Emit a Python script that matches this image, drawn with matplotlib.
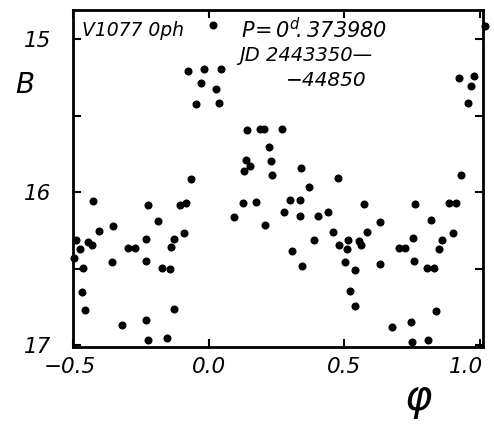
import matplotlib
matplotlib.use("Agg")
import matplotlib.pyplot as plt
from matplotlib.transforms import ScaledTranslation

plt.rcParams['font.family'] = ['DejaVu Sans']
plt.rcParams['font.style'] = 'italic'
plt.rcParams['mathtext.fontset'] = 'custom'
plt.rcParams['mathtext.it'] = 'DejaVu Sans:italic'
plt.rcParams['mathtext.rm'] = 'DejaVu Sans:italic'
plt.rcParams['axes.unicode_minus'] = True

# Phase and B magnitude
phase = [0.017, 1.018,
         -0.075, -0.018, 0.044, -0.029, 0.026, -0.048, 0.038,
         0.924, 0.978, 0.967, 0.955,
         0.140, 0.189, 0.203, 0.271, 0.222, 0.136, 0.130, 0.151, 0.228, 0.234, 0.342,
         -0.066, -0.428, -0.222, -0.107, -0.082, -0.186, -0.352, -0.406, -0.092,
         -0.488, -0.444, -0.431, -0.232, -0.127, -0.138, -0.475, -0.299, -0.272,
         -0.495, -0.358, -0.231, -0.463, -0.174, -0.143, -0.468, -0.455, -0.129,
         -0.320, -0.233, -0.223, -0.154, 0.128, 0.176, 0.094, 0.207,
         0.475, 0.369, 0.929, 0.298, 0.336, 0.571, 0.762, 0.887, 0.911, 0.277,
         0.338, 0.402, 0.439, 0.632, 0.820, 0.458, 0.585, 0.900, 0.390, 0.513,
         0.482, 0.510, 0.553, 0.561, 0.754, 0.860, 0.700, 0.724, 0.848, 0.308,
         0.343, 0.501, 0.541, 0.631, 0.757, 0.804, 0.831, 0.521, 0.540, 0.838,
         0.676, 0.745, 0.750, 0.810]
bmag = [14.908, 14.915,
        15.207, 15.196, 15.192, 15.286, 15.325, 15.425, 15.420,
        15.257, 15.242, 15.307, 15.420,
        15.595, 15.590, 15.590, 15.590, 15.704, 15.791, 15.863, 15.828, 15.795, 15.889, 15.841,
        15.910, 16.059, 16.080, 16.080, 16.070, 16.185, 16.220, 16.255, 16.263,
        16.309, 16.325, 16.346, 16.307, 16.307, 16.356, 16.371, 16.361, 16.361,
        16.429, 16.456, 16.451, 16.492, 16.492, 16.499, 16.654, 16.771, 16.763,
        16.865, 16.835, 16.965, 16.950, 16.069, 16.062, 16.161, 16.216,
        15.905, 15.965, 15.886, 16.048, 16.048, 16.074, 16.078, 16.067, 16.067, 16.129,
        16.155, 16.157, 16.131, 16.194, 16.178, 16.259, 16.259, 16.266, 16.309, 16.314,
        16.346, 16.373, 16.320, 16.346, 16.296, 16.309, 16.366, 16.366, 16.368, 16.384,
        16.479, 16.454, 16.505, 16.466, 16.451, 16.495, 16.495, 16.645, 16.745, 16.776,
        16.880, 16.848, 16.978, 16.961]

xticks = [-0.5, 0.0, 0.5, 1.0]
xticklabels = ["\u22120.5", "0.0", "0.5", "1.0"]
yticks = [15, 16, 17]
yticklabels = ["15", "16", "17"]
yminor = [15.5, 16.5]

fig = plt.figure(figsize=(4.94, 4.26), dpi=100)
ax = fig.add_axes([0.148, 0.1854, 0.830, 0.7911])

ax.plot(phase, bmag, 'o', color='black', markersize=5.8, markeredgewidth=0, clip_on=False)

ax.set_xlim(-0.5, 1.012)
ax.set_ylim(17.01, 14.81)

for s in ax.spines.values():
    s.set_linewidth(2.0)
    s.set_color('black')

ax.set_xticks(xticks)
ax.set_xticklabels(xticklabels, fontsize=15.5, fontstyle='italic')
ax.set_yticks(yticks)
ax.set_yticklabels(yticklabels, fontsize=15.5, fontstyle='italic')
ax.set_yticks(yminor, minor=True)
ax.tick_params(axis='both', which='both', direction='in', top=True, right=True,
               length=6, width=1.5, color='black')
ax.tick_params(axis='y', which='major', pad=16)
ax.tick_params(axis='x', which='major', pad=7)

labs = ax.get_xticklabels()
labs[-1].set_horizontalalignment('right')
labs[-1].set_transform(labs[-1].get_transform() + ScaledTranslation(0.03, 0, fig.dpi_scale_trans))
labs[0].set_transform(labs[0].get_transform() + ScaledTranslation(-0.03, 0, fig.dpi_scale_trans))

fig.text(0.05, 0.80, "B", fontsize=20, fontstyle='italic', ha='center', va='center')
fig.text(0.848, 0.065, "\u03c6", fontsize=30, fontstyle='italic', ha='center', va='center')

ax.text(0.022, 0.968, "V1077 0ph", transform=ax.transAxes, fontsize=13.5,
        fontstyle='italic', ha='left', va='top')
ax.text(0.41, 0.978, r"$P\!=0^{d}\!.373980$", transform=ax.transAxes, fontsize=15,
        ha='left', va='top')
ax.text(0.405, 0.893, "JD 2443350\u2014", transform=ax.transAxes, fontsize=14,
        fontstyle='italic', ha='left', va='top')
ax.text(0.52, 0.82, "\u221244850", transform=ax.transAxes, fontsize=14.5,
        fontstyle='italic', ha='left', va='top')

fig.savefig("out.png", dpi=100)
